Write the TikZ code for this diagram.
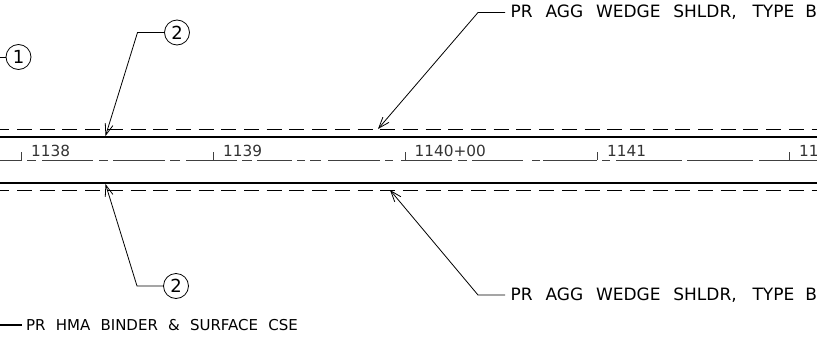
\documentclass[tikz,border=0pt]{standalone}
\usepackage{fontspec}
\setmainfont{DejaVu Sans}
\usetikzlibrary{arrows.meta,positioning}
\newcommand{\wg}{\hspace{12.8pt}}
\newcommand{\hg}{\hspace{10.2pt}}
\newcommand{\wedgenote}{PR\wg AGG\wg WEDGE\wg SHLDR,\hspace{15.8pt}TYPE\hspace{11pt}B}
\tikzset{
  calloutnum/.style={draw,circle,line width=0.8pt,minimum size=25pt,inner sep=0pt,font=\fontsize{18}{18}\selectfont},
  leaderline/.style={line width=0.8pt,-{Straight Barb[length=11pt,width=8pt,line width=0.8pt]}},
  notetext/.style={anchor=west,inner sep=0pt,font=\fontsize{17}{17}\selectfont},
  stationtext/.style={anchor=base west,inner sep=0pt,text=black!80,font=\fontsize{15.3}{15.3}\selectfont},
  edgeline/.style={line width=1.6pt},
  wedgeline/.style={line width=0.8pt,dash pattern=on 15pt off 7.7pt,dash phase=5.7pt},
  centerline/.style={line width=0.7pt,black!75},
}
\begin{document}
\begin{tikzpicture}[x=1pt,y=-1pt]
      \useasboundingbox (0,0) rectangle (817,340);

      % shoulder and pavement lines
      \draw[wedgeline] (0,129.5) -- (817,129.5);
      \draw[edgeline] (0,137) -- (817,137);
      \draw[edgeline] (0,183) -- (817,183);
      \draw[wedgeline] (0,190.5) -- (817,190.5);

      % centerline pieces
      \foreach \xa/\xb in {0/22,27/36,42/93,99/108,113/165,170/180,186/237,242/252,257/292,297/305,310/321,
                           328/380,385/393,401/452,458/467,472/523,532/540,543/597,602/610,616/682,687/753,759/817}
        \draw[centerline] (\xa,160) -- (\xb,160);

      % stations
      \foreach \xt/\lbl in {21.5/1138,213.5/1139,405/1140+00,597.5/1141,789.5/11}{
        \draw[line width=0.7pt,black!75] (\xt,160) -- +(0,-8);
        \node[stationtext] at (\xt+9.5,156) {\lbl};
      }

      % callouts
      \coordinate (one) at (0,57);
      \node[calloutnum] (n1) at (18.5,57) {1};
      \draw[line width=0.8pt] (one) -- (n1);

      \node[calloutnum] (n2a) at (177,32.5) {2};
      \coordinate (n2abend) at (137.5,32.5);
      \coordinate (n2atip) at (105.5,136);
      \draw[leaderline] (n2a) -- (n2abend) -- (n2atip);

      \node[calloutnum] (n2b) at (176,286) {2};
      \coordinate (n2bbend) at (137,286);
      \coordinate (n2btip) at (105.5,184);
      \draw[leaderline] (n2b) -- (n2bbend) -- (n2btip);

      % wedge notes
      \node[notetext] (wedgea) at (510.5,12.5) {\wedgenote};
      \coordinate (wedgeabend) at (478,12.5);
      \coordinate (wedgeatip) at (378,129);
      \draw[leaderline] ([xshift=-5.5pt]wedgea.west) -- (wedgeabend) -- (wedgeatip);

      \node[notetext] (wedgeb) at (510.5,295) {\wedgenote};
      \coordinate (wedgebbend) at (478,295);
      \coordinate (wedgebtip) at (390,190);
      \draw[leaderline] ([xshift=-5.5pt]wedgeb.west) -- (wedgebbend) -- (wedgebtip);

      % surface course note
      \node[anchor=west,inner sep=0pt,font=\fontsize{15}{15}\selectfont] (hma) at (26,325) {PR\hg HMA\hg BINDER\hg \&\hg SURFACE\hg CSE};
      \coordinate (hmaend) at (0,325);
      \draw[line width=2.4pt] (hmaend) -- ([xshift=-4.5pt]hma.west);
\end{tikzpicture}
\end{document}
